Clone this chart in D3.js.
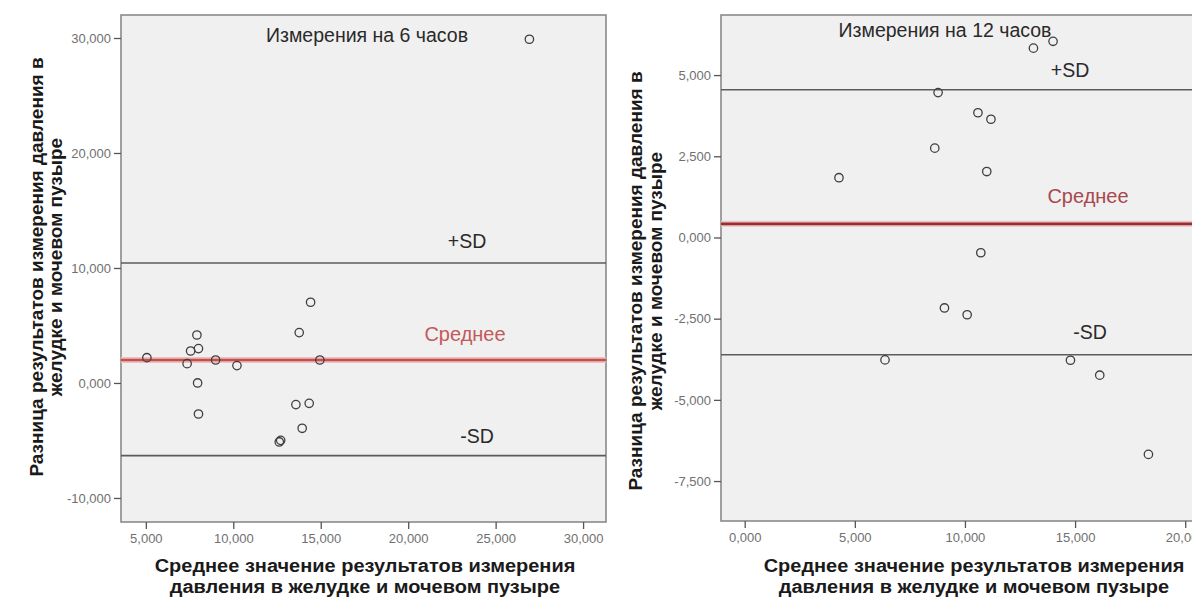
<!DOCTYPE html>
<html>
<head>
<meta charset="utf-8">
<script src="https://cdn.jsdelivr.net/npm/d3@7"></script>
<style>
  html, body { margin: 0; padding: 0; background: #fff; }
  svg { display: block; font-family: "Liberation Sans", Arial, sans-serif; }
</style>
</head>
<body>
<svg id="chart" width="1192" height="597"></svg>
<script>
// Bland–Altman style plots: gastric vs. bladder pressure, 6 h and 12 h

// --- 6 hours ---
const meanX6 = [5.06, 7.92, 7.56, 8.01, 7.36, 8.99, 10.21, 7.96, 8.01, 12.63, 12.71, 13.58, 14.34, 13.94, 13.77, 14.42, 14.95, 26.93];
const diff6  = [2.20, 4.17, 2.78, 2.99, 1.68, 2.00, 1.51, 0.00, -2.70, -5.13, -4.99, -1.88, -1.77, -3.94, 4.38, 7.02, 2.00, 29.89];
const refLines6 = { plusSD: 10.43, mean: 2.00, minusSD: -6.32 };
const xTicks6 = [5, 10, 15, 20, 25, 30];
const yTicks6 = [-10, 0, 10, 20, 30];

// --- 12 hours ---
const meanX12 = [4.28, 6.37, 8.63, 8.78, 9.07, 10.10, 10.59, 10.72, 10.99, 11.18, 13.11, 14.00, 14.79, 16.12, 18.33];
const diff12  = [1.84, -3.77, 2.75, 4.46, -2.17, -2.38, 3.84, -0.47, 2.03, 3.64, 5.83, 6.04, -3.78, -4.24, -6.68];
const refLines12 = { plusSD: 4.55, mean: 0.42, minusSD: -3.61 };
const xTicks12 = [0, 5, 10, 15, 20];
const yTicks12 = [-7.5, -5, -2.5, 0, 2.5, 5];

const titles = ["Измерения на 6 часов", "Измерения на 12 часов"];
const yTitle = ["Разница результатов измерения давления в", "желудке и мочевом пузыре"];
const xTitle = ["Среднее значение результатов измерения", "давления в желудке и мочевом пузыре"];

const ru = d3.formatLocale({ decimal: ",", thousands: " ", grouping: [3], currency: ["", ""], minus: "-" });
const fmt = ru.format(".3f");

const svg = d3.select("#chart");

const panels = [
  {
    xs: meanX6, ys: diff6, ref: refLines6, xTicks: xTicks6, yTicks: yTicks6, title: titles[0],
    box: { left: 121, right: 606, top: 15, bottom: 522 },
    xDomain: [3.58, 31.31], yDomain: [-12.09, 32.0],
    titlePos: [367, 42],
    plusPos: [467, 248], meanPos: [465, 341], minusPos: [477, 443],
    meanColor: "#c4504e", meanHalo: "#efc0c0", meanTextColor: "#c25a5a",
    yTitleX: [43, 62], yTitleY: 267, xTitleX: 365
  },
  {
    xs: meanX12, ys: diff12, ref: refLines12, xTicks: xTicks12, yTicks: yTicks12, title: titles[1],
    box: { left: 721, right: 1196, top: 15, bottom: 521 },
    xDomain: [-1.076, 20.49], yDomain: [-8.73, 6.85],
    titlePos: [945, 37],
    plusPos: [1070, 77], meanPos: [1088, 203], minusPos: [1090, 339],
    meanColor: "#9c2c32", meanHalo: "#eac6c6", meanTextColor: "#a8484e",
    yTitleX: [642, 662], yTitleY: 281, xTitleX: 974
  }
];

panels.forEach(p => {
  const b = p.box;
  const x = d3.scaleLinear().domain(p.xDomain).range([b.left, b.right]);
  const y = d3.scaleLinear().domain(p.yDomain).range([b.bottom, b.top]);
  const g = svg.append("g");

  // plot background and frame
  g.append("rect")
    .attr("x", b.left).attr("y", b.top)
    .attr("width", b.right - b.left).attr("height", b.bottom - b.top)
    .attr("fill", "#f0f0f0").attr("stroke", "#8a8a8a").attr("stroke-width", 1.6);

  // axes
  const yAxis = g.append("g").attr("transform", `translate(${b.left},0)`)
    .call(d3.axisLeft(y).tickValues(p.yTicks).tickFormat(fmt).tickSize(7).tickPadding(3));
  const xAxis = g.append("g").attr("transform", `translate(0,${b.bottom})`)
    .call(d3.axisBottom(x).tickValues(p.xTicks).tickFormat(fmt).tickSize(7).tickPadding(5));
  [yAxis, xAxis].forEach(a => {
    a.select(".domain").remove();
    a.selectAll(".tick line").attr("stroke", "#555").attr("stroke-width", 1.3);
    a.selectAll(".tick text").attr("fill", "#707070").style("font-size", "13px")
      .style("font-family", "'Liberation Sans', Arial, sans-serif");
  });

  // reference lines
  ["plusSD", "minusSD"].forEach(k => {
    g.append("line")
      .attr("x1", b.left).attr("x2", b.right)
      .attr("y1", y(p.ref[k])).attr("y2", y(p.ref[k]))
      .attr("stroke", "#5c5c5c").attr("stroke-width", 1.6);
  });
  g.append("line")
    .attr("x1", b.left).attr("x2", b.right)
    .attr("y1", y(p.ref.mean)).attr("y2", y(p.ref.mean))
    .attr("stroke", p.meanHalo).attr("stroke-width", 6);
  g.append("line")
    .attr("x1", b.left).attr("x2", b.right)
    .attr("y1", y(p.ref.mean)).attr("y2", y(p.ref.mean))
    .attr("stroke", p.meanColor).attr("stroke-width", 2.6);

  // points
  g.append("g").selectAll("circle")
    .data(p.xs.map((v, i) => [v, p.ys[i]]))
    .join("circle")
    .attr("cx", d => x(d[0])).attr("cy", d => y(d[1]))
    .attr("r", 4.2).attr("fill", "none")
    .attr("stroke", "#3f3f3f").attr("stroke-width", 1.3);

  // in-plot labels
  g.append("text").attr("x", p.titlePos[0]).attr("y", p.titlePos[1])
    .attr("text-anchor", "middle").attr("fill", "#2a2a2a").style("font-size", "19.5px")
    .text(p.title);
  g.append("text").attr("x", p.plusPos[0]).attr("y", p.plusPos[1])
    .attr("text-anchor", "middle").attr("fill", "#2a2a2a").style("font-size", "19.5px").text("+SD");
  g.append("text").attr("x", p.minusPos[0]).attr("y", p.minusPos[1])
    .attr("text-anchor", "middle").attr("fill", "#2a2a2a").style("font-size", "19.5px").text("-SD");
  g.append("text").attr("x", p.meanPos[0]).attr("y", p.meanPos[1])
    .attr("text-anchor", "middle").attr("fill", p.meanTextColor).style("font-size", "20px").text("Среднее");

  // axis titles
  yTitle.forEach((t, i) => {
    g.append("text")
      .attr("transform", `translate(${p.yTitleX[i]},${p.yTitleY}) rotate(-90)`)
      .attr("text-anchor", "middle").attr("fill", "#1a1a1a")
      .style("font-size", "19px").style("font-weight", "bold").text(t);
  });
  xTitle.forEach((t, i) => {
    g.append("text")
      .attr("transform", `translate(${p.xTitleX},${572 + i * 21}) scale(1.08,1)`)
      .attr("text-anchor", "middle").attr("fill", "#1a1a1a")
      .style("font-size", "18.5px").style("font-weight", "bold").text(t);
  });
});
</script>
</body>
</html>
